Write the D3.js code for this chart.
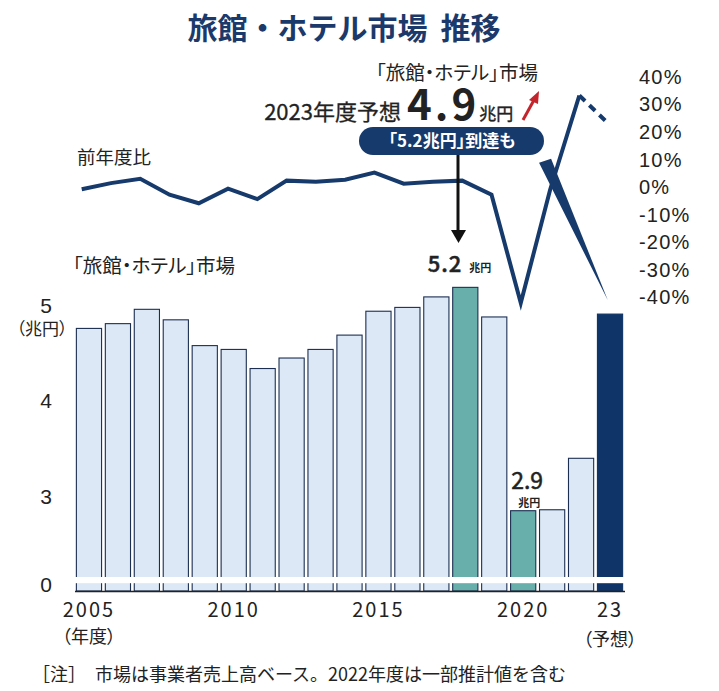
<!DOCTYPE html>
<html>
<head>
<meta charset="utf-8">
<script src="https://cdn.jsdelivr.net/npm/d3@7"></script>
<style>
  body { margin: 0; background: #fff; }
  svg { font-family: "Noto Sans CJK JP", "Noto Sans", sans-serif; }
  .palt { font-feature-settings: "palt"; }
</style>
</head>
<body>
<div id="chart"></div>
<script>
// fiscal years (categories)
const years = [2005, 2006, 2007, 2008, 2009, 2010, 2011, 2012, 2013, 2014,
               2015, 2016, 2017, 2018, 2019, 2020, 2021, 2022, 2023];

// 「旅館・ホテル」市場 (兆円)
const marketValues = [4.76, 4.81, 4.96, 4.85, 4.58, 4.54, 4.34, 4.45, 4.54, 4.69,
                      4.94, 4.98, 5.09, 5.19, 4.88, 2.85, 2.86, 3.40, 4.91];

// 前年度比 (%)
const yoyPct = [-0.7, 1.5, 3.1, -2.7, -5.8, -0.5, -4.3, 2.4, 2.0, 2.7,
                5.3, 1.3, 2.0, 2.4, -2.7, -42, -1, 33.3, 23];

const highlightYears = [2018, 2020];
const forecastYears = [2023];
const xTickYears = [2005, 2010, 2015, 2020, 2023];
const barTicks = [0, 3, 4, 5];
const pctTicks = [40, 30, 20, 10, 0, -10, -20, -30, -40];

// pointer wedge from the line down to the 2023 bar
const wedge = [{year: 2020.83, pct: 9.6}, {year: 2022.97, pct: -40.9}];

const width = 719, height = 691;
const navy = "#163a6c";
const ink = "#222";

const svg = d3.select("#chart").append("svg")
    .attr("width", width)
    .attr("height", height);

// scales
const xBand = d3.scaleBand()
    .domain(years)
    .range([74.5, 624.5])
    .paddingInner(0.13)
    .paddingOuter(0.065);

const xLine = d3.scaleLinear()
    .domain([2005, 2023])
    .range([81.7, 608.6]);

//broken axis: 0 .. 2.15 squeezed into the bottom strip
const yBar = d3.scaleLinear()
    .domain([0, 2.15, 3, 5])
    .range([591, 577, 496.5, 305.5]);
const breakRange = [1.2, 2.15];

const yPct = d3.scaleLinear()
    .domain([-40, 40])
    .range([297.5, 77]);

// title
svg.append("text")
    .attr("x", 344)
    .attr("y", 39)
    .attr("text-anchor", "middle")
    .attr("font-size", 30)
    .attr("font-weight", "bold")
    .attr("fill", "#1b3a6b")
    .text("旅館・ホテル市場")
  .append("tspan")
    .attr("dx", 13)
    .text("推移");

// bars
const barData = years.map((y, i) => ({year: y, value: marketValues[i]}));

svg.append("g")
    .selectAll("rect")
    .data(barData)
    .join("rect")
    .attr("x", d => xBand(d.year))
    .attr("y", d => yBar(d.value))
    .attr("width", xBand.bandwidth())
    .attr("height", d => yBar(0) - yBar(d.value))
    .attr("fill", d => forecastYears.includes(d.year) ? "#0f3467"
        : highlightYears.includes(d.year) ? "#68aeaa" : "#dce8f5")
    .attr("stroke", d => forecastYears.includes(d.year) ? "#0f3467" : "#1c2f52")
    .attr("stroke-width", 1.1);

// axis break band
svg.append("rect")
    .attr("x", xBand.range()[0] - 6)
    .attr("y", yBar(breakRange[1]))
    .attr("width", xBand.range()[1] - xBand.range()[0] + 12)
    .attr("height", yBar(breakRange[0]) - yBar(breakRange[1]))
    .attr("fill", "#fff");

// x axis
const xAxis = svg.append("g")
    .attr("transform", `translate(0,${yBar(0)})`)
    .call(d3.axisBottom(xBand)
        .tickValues(xTickYears)
        .tickSize(0)
        .tickSizeOuter(0)
        .tickPadding(12)
        .tickFormat(d => d === 2023 ? "23" : d));
xAxis.select(".domain").attr("stroke", ink).attr("stroke-width", 1.6);
xAxis.selectAll("text")
    .attr("font-size", 20)
    .attr("font-family", "Noto Sans CJK JP")
    .attr("letter-spacing", 2)
    .attr("fill", ink);

svg.append("text")
    .attr("class", "palt")
    .attr("x", xBand(2005) + xBand.bandwidth() / 2)
    .attr("y", 643)
    .attr("text-anchor", "middle")
    .attr("font-size", 18)
    .attr("fill", ink)
    .text("（年度）");

svg.append("text")
    .attr("class", "palt")
    .attr("x", xBand(2023) + xBand.bandwidth() / 2)
    .attr("y", 646)
    .attr("text-anchor", "middle")
    .attr("font-size", 18)
    .attr("fill", ink)
    .text("（予想）");

// left axis (market)
const yAxis = svg.append("g")
    .attr("transform", "translate(46,0)")
    .call(d3.axisLeft(yBar).tickValues(barTicks).tickSize(0).tickPadding(0)
        .tickFormat(d3.format("d")));
yAxis.select(".domain").remove();
yAxis.selectAll("text")
    .attr("text-anchor", "middle")
    .attr("font-size", 21)
    .attr("fill", ink)
    .attr("dy", d => d === 0 ? "0em" : "0.32em");

svg.append("text")
    .attr("class", "palt")
    .attr("x", 42)
    .attr("y", 335)
    .attr("text-anchor", "middle")
    .attr("font-size", 17)
    .attr("fill", ink)
    .text("（兆円）");

svg.append("text")
    .attr("class", "palt")
    .attr("x", 73)
    .attr("y", 273)
    .attr("font-size", 19.5)
    .attr("fill", ink)
    .text("「旅館・ホテル」市場");

// right axis (yoy)
const rAxis = svg.append("g")
    .attr("transform", "translate(639,0)")
    .call(d3.axisRight(yPct).tickValues(pctTicks).tickSize(0).tickPadding(0)
        .tickFormat(d => d + "%"));
rAxis.select(".domain").remove();
rAxis.selectAll("text")
    .attr("text-anchor", "start")
    .attr("font-size", 20)
    .attr("letter-spacing", 1.2)
    .attr("fill", ink);

svg.append("text")
    .attr("x", 77)
    .attr("y", 164)
    .attr("font-size", 18.5)
    .attr("fill", ink)
    .text("前年度比");

// yoy line
const lineData = years.map((y, i) => ({year: y, pct: yoyPct[i]}));
const line = d3.line()
    .x(d => xLine(d.year))
    .y(d => yPct(d.pct));

svg.append("path")
    .datum(lineData.filter(d => !forecastYears.includes(d.year)))
    .attr("d", line)
    .attr("fill", "none")
    .attr("stroke", navy)
    .attr("stroke-width", 4)
    .attr("stroke-linejoin", "miter");

svg.append("path")
    .datum(lineData.slice(-2))
    .attr("d", line)
    .attr("fill", "none")
    .attr("stroke", navy)
    .attr("stroke-width", 4)
    .attr("stroke-dasharray", "8,6");

// wedge pointer
const wTop = [xLine(wedge[0].year), yPct(wedge[0].pct)];
const wTip = [xLine(wedge[1].year), yPct(wedge[1].pct)];
svg.append("polygon")
    .attr("points", [
        [wTop[0] - 6, wTop[1] + 2],
        [wTop[0] + 6, wTop[1] - 2],
        wTip
    ].map(p => p.join(",")).join(" "))
    .attr("fill", navy);

// bar value labels
const lab52 = svg.append("text")
    .attr("x", xBand(2018) - 25)
    .attr("y", 272)
    .attr("fill", ink);
lab52.append("tspan").attr("font-size", 22).attr("font-weight", 500)
    .attr("stroke", ink).attr("stroke-width", 0.5).attr("letter-spacing", 1).text("5.2");
lab52.append("tspan").attr("dx", 7).attr("font-size", 11).attr("font-weight", "bold").text("兆円");

svg.append("text")
    .attr("x", xBand(2020) + xBand.bandwidth() / 2 + 4)
    .attr("y", 489)
    .attr("text-anchor", "middle")
    .attr("font-size", 23)
    .attr("stroke", ink)
    .attr("stroke-width", 0.5)
    .attr("fill", ink)
    .text("2.9");
svg.append("text")
    .attr("x", xBand(2020) + xBand.bandwidth() / 2 + 6)
    .attr("y", 507)
    .attr("text-anchor", "middle")
    .attr("font-size", 11)
    .attr("font-weight", "bold")
    .attr("fill", ink)
    .text("兆円");

// callout
svg.append("text")
    .attr("class", "palt")
    .attr("x", 538)
    .attr("y", 80)
    .attr("text-anchor", "end")
    .attr("font-size", 19.5)
    .attr("fill", ink)
    .text("「旅館・ホテル」市場");

svg.append("text")
    .attr("x", 401)
    .attr("y", 120)
    .attr("text-anchor", "end")
    .attr("font-size", 22)
    .attr("fill", ink)
    .attr("stroke", ink)
    .attr("stroke-width", 0.3)
    .text("2023年度予想");

const callout = svg.append("text")
    .attr("x", 407)
    .attr("y", 120)
    .attr("fill", ink);
callout.append("tspan").attr("font-size", 42).attr("font-weight", "bold").attr("letter-spacing", 3).text("4.9");
callout.append("tspan").attr("font-size", 17).attr("stroke", ink).attr("stroke-width", 0.4).text("兆円");

// red up arrow
const red = "#c4242b";
svg.append("line")
    .attr("x1", 523).attr("y1", 120)
    .attr("x2", 534).attr("y2", 100)
    .attr("stroke", red)
    .attr("stroke-width", 3);
svg.append("polygon")
    .attr("points", "539,91 529,100 538,104")
    .attr("fill", red);

// pill
svg.append("rect")
    .attr("x", 359).attr("y", 127)
    .attr("width", 185).attr("height", 28)
    .attr("rx", 14)
    .attr("fill", navy);
svg.append("text")
    .attr("class", "palt")
    .attr("x", 452)
    .attr("y", 147)
    .attr("text-anchor", "middle")
    .attr("font-size", 17)
    .attr("font-weight", "bold")
    .attr("fill", "#fff")
    .text("「5.2兆円」到達も");

// black arrow down to 2018
svg.append("line")
    .attr("x1", 458).attr("y1", 155)
    .attr("x2", 458).attr("y2", 232)
    .attr("stroke", "#111")
    .attr("stroke-width", 3);
svg.append("polygon")
    .attr("points", "451,230 466,230 458.5,243")
    .attr("fill", "#111");

// note
svg.append("text")
    .attr("x", 32)
    .attr("y", 681)
    .attr("font-size", 18)
    .attr("fill", ink)
    .text("［注］　市場は事業者売上高ベース。2022年度は一部推計値を含む");
</script>
</body>
</html>
